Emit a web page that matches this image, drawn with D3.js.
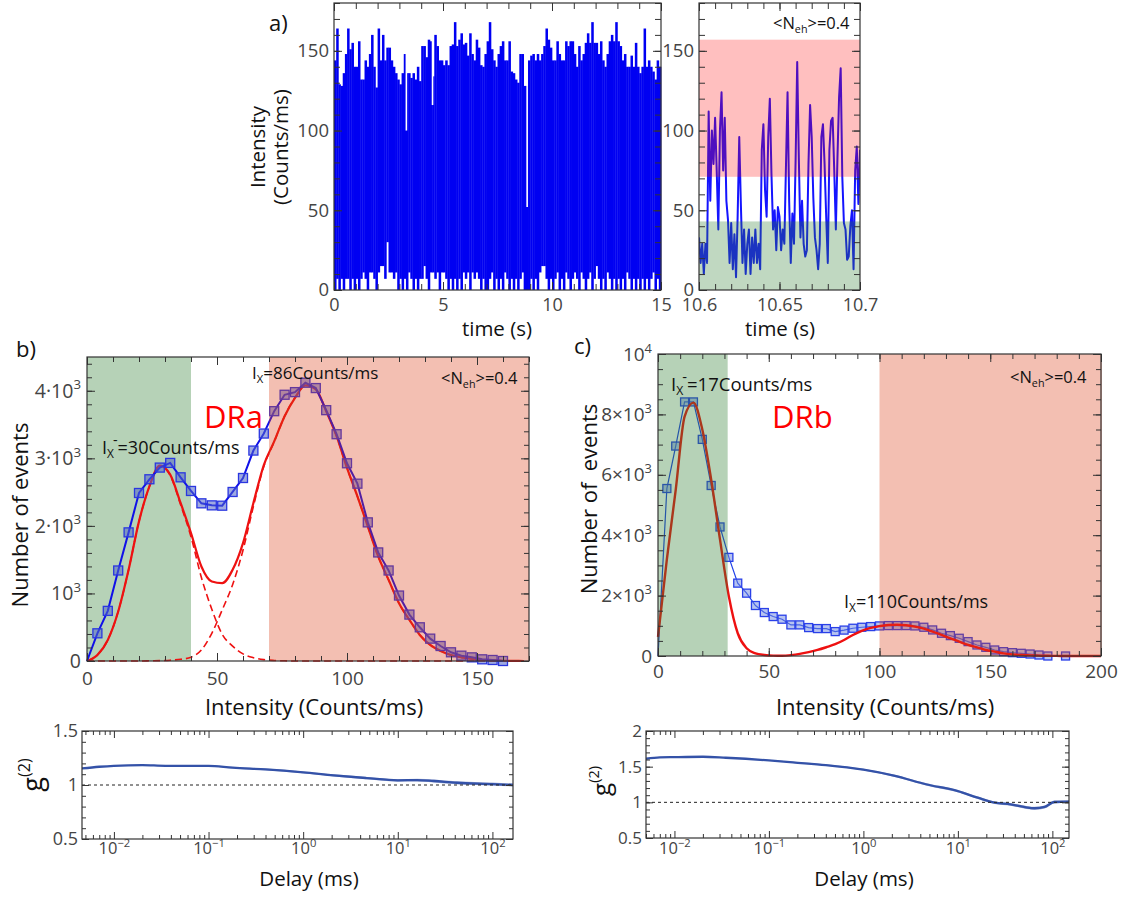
<!DOCTYPE html>
<html><head><meta charset="utf-8">
<script src="https://cdn.jsdelivr.net/npm/d3@7"></script>
<style>
body{margin:0;background:#fff}
svg{display:block}
text{font-family:'Open Sans',sans-serif}
</style>
</head><body>
<svg id="fig" width="1123" height="899"></svg>
<script>
// ---------------- DATA ----------------
// Panel a (left): intensity trace, 0.1 s bins, upper / lower envelope (Counts/ms)
const traceBinWidth = 0.1;
const traceMax = [
 144,164,129,128,136,148,164,151,155,140,
 140,156,132,132,144,140,148,160,140,127,
 164,144,160,144,152,152,144,140,136,132,
 129,136,148,136,136,133,136,132,140,131,
 153,153,146,157,156,134,160,153,144,144,
 141,144,141,153,154,168,153,157,161,154,
 155,147,161,148,144,157,152,141,140,148,
 156,168,151,144,140,148,153,156,144,144,
 156,137,136,132,130,148,148,128,128,144,
 147,148,144,148,144,148,153,164,157,152,
 144,144,156,148,144,144,156,153,156,156,
 148,140,153,144,148,155,161,155,168,155,
 155,148,156,144,140,148,156,160,156,168,
 156,153,144,148,140,140,147,140,155,140,
 136,140,164,140,144,140,137,132,144,140];
const traceMin = [
 0,7,0,7,0,7,7,0,7,0,
 7,0,7,11,7,0,11,11,7,0,
 11,15,15,7,30,11,11,7,11,0,
 7,0,7,0,11,7,0,7,0,7,
 7,15,7,0,11,11,7,11,0,11,
 11,7,0,7,0,7,0,7,0,11,
 7,11,0,11,7,11,7,0,7,0,
 0,7,11,0,7,0,7,0,11,7,
 0,7,0,7,0,7,11,0,0,0,
 7,0,7,0,11,15,15,7,0,7,
 0,7,11,0,7,0,11,7,0,7,
 11,7,0,11,7,0,7,11,0,7,
 15,7,0,7,0,11,7,0,7,0,
 7,0,7,0,11,7,0,7,0,7,
 0,7,0,7,0,7,11,0,7,0];
const dipTimes = [3.32, 4.52, 8.86];
const dipLevels = [100, 116, 52];

// Panel a (right): zoomed trace 10.600 - 10.700 s, 1 ms steps
const zoomStart = 10.6, zoomStep = 0.001;
const zoomTrace = [
 33,17,29,10,29,17,112,56,100,79,108,
 75,38,100,124,75,108,56,44,17,42,
 13,35,8,46,96,54,17,38,10,29,
 38,10,33,17,38,17,29,13,88,104,
 63,46,96,120,73,38,50,25,52,46,
 25,38,29,77,124,56,17,48,29,81,
 143,83,33,56,29,21,25,79,116,96,
 58,33,25,13,29,96,104,79,46,17,
 88,106,108,75,38,83,121,139,71,42,
 38,19,21,40,50,13,75,90,54,88];
const zoomBandHigh = [71, 157];
const zoomBandLow = [0, 43];

// Panel b: histogram DRa
const histBX = [0,4,8,12,16,20,24,28,32,36,40,44,48,52,56,60,64,68,72,76,80,84,88,92,96,100,104,108,112,116,120,124,128,132,136,140,144,148,152,156,160];
const histBY = [0,410,742,1340,1904,2487,2690,2863,2932,2719,2517,2334,2304,2299,2502,2709,3115,3367,3698,3941,3980,4119,4040,3713,3357,2927,2625,2052,1607,1340,969,687,499,331,222,129,79,54,25,15,0];
const fitBX = [0,4,8,12,16,20,24,28,32,36,40,44,48,52,56,60,64,68,72,76,80,84,88,92,96,100,104,108,112,116,120,124,128,132,136,140,144,148,152,156,160,164,168];
const fitBTotal = [0,89,311,732,1350,2067,2586,2892,2759,2339,1894,1399,1177,1152,1350,1745,2339,2900,3250,3624,3896,4079,4020,3698,3328,2858,2438,1993,1548,1201,855,608,386,237,148,89,54,30,15,8,4,2,0];
const fitBLow = [0,89,311,732,1350,2067,2583,2886,2747,2314,1839,1236,767,396,220,105,49,20,8,3,0,0,0,0,0,0,0,0,0,0,0,0,0,0,0,0,0,0,0,0,0,0,0];
const fitBHigh = [0,0,0,0,0,0,3,6,12,25,55,163,410,756,1130,1640,2290,2880,3242,3624,3896,4079,4020,3698,3328,2858,2438,1993,1548,1201,855,608,386,237,148,89,54,30,15,8,4,2,0];
const bandsB = {low:[0,40], high:[70,170]};

// Panel c: histogram DRb
const histCX = [0,4,8,12,16,20,24,28,32,36,40,44,48,52,56,60,64,68,72,76,80,84,88,92,96,100,104,108,112,116,120,124,128,132,136,140,144,148,152,156,160,164,168,172,176,184];
const histCY = [0,5546,6952,8413,8413,7173,5646,4273,3266,2413,2081,1672,1439,1306,1218,1030,1030,941,908,908,808,858,919,952,974,996,1007,1007,1007,996,952,863,753,675,587,476,365,288,199,144,111,89,66,33,0,0];
const fitCX = [0,4,8,12,16,20,24,28,32,36,40,44,48,52,56,60,64,68,72,76,80,84,88,92,96,100,104,108,112,116,120,124,128,132,136,140,144,148,152,156,160,164,168,172,176,180,184,188,192,196,200];
const fitCY = [630,3200,5500,7926,8391,7500,5845,3852,1970,753,255,89,33,11,10,30,70,130,200,290,390,530,697,830,930,990,1025,1035,1020,974,908,808,697,587,476,365,288,199,144,89,55,33,22,12,6,3,1,0,0,0,0];
const bandsC = {low:[0,31], high:[100,200]};

// g2 curves
const g2BDelay = [0.0046,0.007,0.01,0.02,0.035,0.1,0.18,0.4,1,2.1,4.7,10,16,24,42,100,165];
const g2BVal   = [1.153,1.169,1.178,1.184,1.178,1.178,1.16,1.144,1.117,1.089,1.064,1.043,1.046,1.037,1.021,1.009,1.0];
const g2BNoise = [0.003,0.003,0.003,0.003,0.003,0.004,0.007,0.008,0.009,0.01,0.011,0.012,0.013,0.013,0.013,0.013,0.013];
const g2CDelay = [0.005,0.007,0.01,0.02,0.035,0.1,0.18,0.4,1,2.1,4.7,10,16.2,24.5,36,50,65,83,105,150];
const g2CVal   = [1.611,1.63,1.634,1.639,1.625,1.588,1.56,1.523,1.458,1.375,1.25,1.157,1.065,0.995,0.972,0.935,0.917,0.935,1.005,1.01];
const g2CNoise = [0.004,0.004,0.004,0.004,0.005,0.006,0.009,0.011,0.013,0.015,0.016,0.017,0.018,0.018,0.019,0.02,0.02,0.02,0.02,0.02];

// ---------------- DRAWING ----------------
const svg = d3.select('#fig');
const FONT = "'Open Sans',sans-serif";
const GREEN = '#2e7d32', SALMON = '#dc3c14';

function supify(g, fs){
  g.selectAll('.tick text').each(function(){
    const t = d3.select(this), s = t.text();
    if (s.includes('^')) {
      const [b,p] = s.split('^');
      t.text(null);
      t.append('tspan').text(b);
      t.append('tspan').attr('dy', -fs*0.42).attr('font-size', fs*0.68).text(p);
    }
  });
}

function frame(g, x, y, o){
  const [xa, xb] = x.range(), [ya, yb] = y.range();
  const sides = [
    [d3.axisBottom, x, `translate(0,${ya})`, o.xMajor, o.xMinor, o.xFmt, o.xPad, o.xFs],
    [d3.axisTop,    x, `translate(0,${yb})`, o.xMajor, o.xMinor, null, 3, 10],
    [d3.axisLeft,   y, `translate(${xa},0)`, o.yMajor, o.yMinor, o.yFmt, o.yPad, o.yFs],
    [d3.axisRight,  y, `translate(${xb},0)`, o.yMajor, o.yMinor, null, 3, 10]
  ];
  for (const [A, s, tr, maj, min, fmt, pad, fs] of sides){
    const gm = g.append('g').attr('transform', tr)
      .call(A(s).tickValues(min).tickSize(-o.minLen).tickFormat(() => ''));
    const gM = g.append('g').attr('transform', tr)
      .call(A(s).tickValues(maj).tickSize(-o.majLen).tickPadding(pad).tickFormat(fmt || (() => '')));
    [gm, gM].forEach(q => {
      q.select('.domain').remove();
      q.selectAll('line').attr('stroke', '#333').attr('stroke-width', 1);
    });
    if (fmt){
      gM.attr('font-family', FONT).attr('font-size', fs);
      gM.selectAll('text').attr('fill', '#444');
      supify(gM, fs);
    }
  }
  g.append('rect').attr('x', xa).attr('y', yb).attr('width', xb-xa).attr('height', ya-yb)
    .attr('fill', 'none').attr('stroke', '#333').attr('stroke-width', 1.2);
}

function text(g, x, y, s, fs, opts={}){
  const t = g.append('text').attr('x', x).attr('y', y).attr('font-size', fs)
    .attr('fill', opts.fill || '#111').attr('text-anchor', opts.anchor || 'start');
  if (opts.rotate) t.attr('transform', `rotate(-90,${x},${y})`);
  if (opts.pre) t.style('white-space', 'pre');
  t.text(s);
  return t;
}
function nehLabel(g, x, y, fs){
  const t = g.append('text').attr('x', x).attr('y', y).attr('font-size', fs).attr('fill', '#111');
  t.append('tspan').text('<N');
  t.append('tspan').attr('dy', 4).attr('font-size', fs*0.65).text('eh');
  t.append('tspan').attr('dy', -4).text('>=0.4');
}
function ixLabel(g, x, y, fs, val, minus){
  const t = g.append('text').attr('x', x).attr('y', y).attr('font-size', fs).attr('fill', '#111');
  t.append('tspan').text('I');
  t.append('tspan').attr('dy', 4).attr('font-size', fs*0.66).text('X');
  if (minus){
    t.append('tspan').attr('dx', -1).attr('dy', -13).attr('font-size', fs*0.8).text('-');
    t.append('tspan').attr('dy', 9).text('=' + val + 'Counts/ms');
  } else {
    t.append('tspan').attr('dy', -4).text('=' + val + 'Counts/ms');
  }
}
function clip(id, x0, y0, w, h){
  svg.append('clipPath').attr('id', id).append('rect').attr('x', x0).attr('y', y0).attr('width', w).attr('height', h);
  return `url(#${id})`;
}
const rangeStep = (a, b, s) => d3.range(Math.round((b-a)/s)+1).map(i => +(a + i*s).toFixed(6));

// ===== Panel a left =====
{
  const g = svg.append('g');
  const x = d3.scaleLinear([0, 15], [334, 661]);
  const y = d3.scaleLinear([0, 180], [290, 3]);
  const bins = traceMax.map((m, i) => ({t: i*traceBinWidth, max: m, min: traceMin[i]}));
  g.append('g').selectAll('rect').data(bins).join('rect')
    .attr('x', d => x(d.t)).attr('width', d => x(d.t + traceBinWidth) - x(d.t) + 0.35)
    .attr('y', d => y(d.max)).attr('height', d => y(d.min) - y(d.max))
    .attr('fill', '#0000f2');
  g.append('g').selectAll('line').data(dipTimes).join('line')
    .attr('x1', d => x(d)).attr('x2', d => x(d))
    .attr('y1', y(180)).attr('y2', (d, i) => y(dipLevels[i]))
    .attr('stroke', '#fff').attr('stroke-width', 1.6);
  frame(g, x, y, {
    xMajor: [0,5,10,15], xMinor: d3.range(0,16,1), yMajor: [0,50,100,150], yMinor: d3.range(0,181,10),
    xFmt: d3.format('d'), yFmt: d3.format('d'), xPad: 8, yPad: 5, xFs: 18, yFs: 18.5, majLen: 8, minLen: 6
  });
  text(g, 497, 336, 'time (s)', 20.5, {anchor: 'middle'});
  text(g, 265, 147, 'Intensity', 20.5, {anchor: 'middle', rotate: true});
  text(g, 288, 147, '(Counts/ms)', 20.5, {anchor: 'middle', rotate: true});
  text(g, 269, 31, 'a)', 22);
}

// ===== Panel a right =====
{
  const g = svg.append('g');
  const x = d3.scaleLinear([10.6, 10.7], [699, 860]);
  const y = d3.scaleLinear([0, 180], [290, 3]);
  const cp = clip('clipAR', 699, 3, 161, 287);
  g.append('path').attr('clip-path', cp)
    .attr('d', d3.line().x((d, i) => x(zoomStart + i*zoomStep)).y(d => y(d))(zoomTrace))
    .attr('fill', 'none').attr('stroke', '#1414ff').attr('stroke-width', 2).attr('stroke-linejoin', 'round');
  g.append('rect').attr('x', 699).attr('width', 161)
    .attr('y', y(zoomBandHigh[1])).attr('height', y(zoomBandHigh[0]) - y(zoomBandHigh[1]))
    .attr('fill', '#ff0000').attr('opacity', 0.25);
  g.append('rect').attr('x', 699).attr('width', 161)
    .attr('y', y(zoomBandLow[1])).attr('height', y(zoomBandLow[0]) - y(zoomBandLow[1]))
    .attr('fill', GREEN).attr('opacity', 0.3);
  frame(g, x, y, {
    xMajor: [10.6,10.65,10.7], xMinor: rangeStep(10.6,10.7,0.01), yMajor: [0,50,100,150], yMinor: d3.range(0,181,10),
    xFmt: d => String(+d.toFixed(2)), yFmt: d3.format('d'), xPad: 8, yPad: 5, xFs: 18, yFs: 18.5, majLen: 8, minLen: 6
  });
  text(g, 780, 336, 'time (s)', 20.5, {anchor: 'middle'});
  nehLabel(g, 773, 29, 16.5);
}

// ===== Panel b histogram =====
{
  const g = svg.append('g');
  const x = d3.scaleLinear([0, 170], [87, 529]);
  const y = d3.scaleLinear([0, 4500], [661, 357]);
  const band = (r, c, op) => g.append('rect').attr('x', x(r[0])).attr('width', x(r[1]) - x(r[0]))
    .attr('y', 357).attr('height', 304).attr('fill', c).attr('opacity', op);
  band(bandsB.low, GREEN, 0.35);
  const line = d3.line().x((d, i) => x(d[0])).y(d => y(d[1]));
  const smooth = d3.line().curve(d3.curveMonotoneX).x(d => x(d[0])).y(d => y(d[1]));
  const red = '#ee1111';
  g.append('path').attr('d', smooth(fitBX.map((v, i) => [v, fitBLow[i]])))
    .attr('fill', 'none').attr('stroke', red).attr('stroke-width', 1.6).attr('stroke-dasharray', '7,4');
  g.append('path').attr('d', smooth(fitBX.map((v, i) => [v, fitBHigh[i]])))
    .attr('fill', 'none').attr('stroke', red).attr('stroke-width', 1.6).attr('stroke-dasharray', '7,4');
  g.append('path').attr('d', smooth(fitBX.map((v, i) => [v, fitBTotal[i]])))
    .attr('fill', 'none').attr('stroke', red).attr('stroke-width', 2.2);
  g.append('path').attr('d', line(histBX.map((v, i) => [v, histBY[i]])))
    .attr('fill', 'none').attr('stroke', '#1010e8').attr('stroke-width', 2);
  const sq = 9;
  g.append('g').selectAll('rect').data(histBX.map((v, i) => [v, histBY[i]]).filter(d => d[0] > 0)).join('rect')
    .attr('x', d => x(d[0]) - sq/2).attr('y', d => y(d[1]) - sq/2).attr('width', sq).attr('height', sq)
    .attr('fill', 'rgba(80,100,200,0.55)').attr('stroke', '#2a36e0').attr('stroke-width', 1.3);
  band(bandsB.high, SALMON, 0.33);
  frame(g, x, y, {
    xMajor: [0,50,100,150], xMinor: d3.range(0,171,10), yMajor: [0,1000,2000,3000,4000], yMinor: d3.range(0,4501,200),
    xFmt: d3.format('d'), yFmt: d => d === 0 ? '0' : d === 1000 ? '10^3' : (d/1000) + '·10^3',
    xPad: 11, yPad: 6, xFs: 19, yFs: 19.5, majLen: 8, minLen: 5
  });
  text(g, 314, 715, 'Intensity (Counts/ms)', 22, {anchor: 'middle'});
  text(g, 28, 515, 'Number of events', 22, {anchor: 'middle', rotate: true});
  text(g, 16, 357, 'b)', 22);
  text(g, 204, 428, 'DRa', 31, {fill: '#ff0000'});
  ixLabel(g, 102, 454, 18, 30, true);
  ixLabel(g, 252, 379, 17, 86, false);
  nehLabel(g, 441, 384, 16.5);
}

// ===== Panel c histogram =====
{
  const g = svg.append('g');
  const x = d3.scaleLinear([0, 200], [658, 1101]);
  const y = d3.scaleLinear([0, 10000], [656, 354]);
  const band = (r, c, op) => g.append('rect').attr('x', x(r[0])).attr('width', x(r[1]) - x(r[0]) + 1)
    .attr('y', 354).attr('height', 302).attr('fill', c).attr('opacity', op);
  const line = d3.line().x(d => x(d[0])).y(d => y(d[1]));
  const smooth = d3.line().curve(d3.curveMonotoneX).x(d => x(d[0])).y(d => y(d[1]));
  g.append('path').attr('d', line(histCX.map((v, i) => [v, histCY[i]])))
    .attr('fill', 'none').attr('stroke', '#2040e8').attr('stroke-width', 1.2);
  const sq = 8;
  g.append('g').selectAll('rect').data(histCX.map((v, i) => [v, histCY[i]]).filter(d => d[0] > 0)).join('rect')
    .attr('x', d => x(d[0]) - sq/2).attr('y', d => y(d[1]) - sq/2).attr('width', sq).attr('height', sq)
    .attr('fill', 'rgba(110,135,225,0.5)').attr('stroke', '#2a40e8').attr('stroke-width', 1.3);
  g.append('path').attr('d', smooth(fitCX.map((v, i) => [v, fitCY[i]])))
    .attr('fill', 'none').attr('stroke', '#ee1111').attr('stroke-width', 2.4);
  band(bandsC.low, GREEN, 0.35);
  band(bandsC.high, SALMON, 0.33);
  frame(g, x, y, {
    xMajor: [0,50,100,150,200], xMinor: d3.range(0,201,10), yMajor: [0,2000,4000,6000,8000,10000], yMinor: d3.range(0,10001,500),
    xFmt: d3.format('d'), yFmt: d => d === 0 ? '0' : d === 10000 ? '10^4' : (d/1000) + '×10^3',
    xPad: 9, yPad: 6, xFs: 19, yFs: 19, majLen: 8, minLen: 5
  });
  text(g, 885, 715, 'Intensity (Counts/ms)', 22, {anchor: 'middle'});
  text(g, 597, 499, 'Number of  events', 22, {anchor: 'middle', rotate: true, pre: true});
  text(g, 574, 354, 'c)', 22);
  text(g, 772, 428, 'DRb', 31, {fill: '#ff0000'});
  ixLabel(g, 671, 391, 18.5, 17, true);
  ixLabel(g, 844, 608, 18, 110, false);
  nehLabel(g, 1010, 383, 16.5);
}

// ===== g2 panels =====
function g2Panel(id, xr, yr, xdom, ydom, yMajor, delays, vals, noise, opts){
  const g = svg.append('g');
  const x = d3.scaleLog(xdom, xr);
  const y = d3.scaleLinear(ydom, yr);
  const cp = clip(id, xr[0], yr[1], xr[1]-xr[0], yr[0]-yr[1]);
  const pts = delays.map((d, i) => ({d, v: vals[i], n: noise[i]}));
  g.append('path').attr('clip-path', cp)
    .attr('d', d3.area().curve(d3.curveMonotoneX).x(p => x(p.d)).y0(p => y(p.v - p.n)).y1(p => y(p.v + p.n))(pts))
    .attr('fill', '#3a55a8').attr('opacity', 0.45);
  g.append('path').attr('clip-path', cp)
    .attr('d', d3.line().curve(d3.curveMonotoneX).x(p => x(p.d)).y(p => y(p.v))(pts))
    .attr('fill', 'none').attr('stroke', '#3452a8').attr('stroke-width', 2.3);
  g.append('line').attr('x1', xr[0]).attr('x2', xr[1]).attr('y1', y(1)).attr('y2', y(1))
    .attr('stroke', '#222').attr('stroke-width', 1).attr('stroke-dasharray', '3,3');
  const majors = [1e-2, 1e-1, 1, 10, 100];
  const minors = [];
  for (let e = -3; e <= 2; e++) for (let k = 2; k <= 9; k++) {
    const v = k * Math.pow(10, e);
    if (v >= xdom[0] && v <= xdom[1]) minors.push(v);
  }
  frame(g, x, y, {
    xMajor: majors, xMinor: minors, yMajor: yMajor, yMinor: rangeStep(ydom[0], ydom[1], 0.1),
    xFmt: d => { const e = Math.round(Math.log10(d)); return '10^' + (e < 0 ? '\u2212' + (-e) : e); },
    yFmt: d => String(d), xPad: opts.xPad, yPad: opts.yPad, xFs: opts.xFs, yFs: opts.yFs, majLen: 7, minLen: 4
  });
  text(g, opts.delayX, 886, 'Delay (ms)', 20.5, {anchor: 'middle'});
  const t = g.append('text').attr('x', opts.gX).attr('y', opts.gY).attr('font-size', opts.gFs)
    .attr('fill', '#111').attr('text-anchor', 'middle')
    .attr('transform', `rotate(-90,${opts.gX},${opts.gY})`);
  t.append('tspan').text('g');
  t.append('tspan').attr('dy', -opts.gFs*0.45).attr('font-size', opts.gFs*0.6).text('(2)');
}
g2Panel('clipBG', [82, 513], [839, 731], [0.0046, 165], [0.5, 1.5], [0.5, 1, 1.5],
  g2BDelay, g2BVal, g2BNoise,
  {xPad: 3, yPad: 4, xFs: 16.5, yFs: 18, delayX: 309, gX: 42, gY: 775, gFs: 27});
g2Panel('clipCG', [646, 1069], [838, 731], [0.005, 150], [0.5, 2], [0.5, 1, 1.5, 2],
  g2CDelay, g2CVal, g2CNoise,
  {xPad: 4, yPad: 4, xFs: 16.5, yFs: 17, delayX: 864, gX: 610, gY: 781, gFs: 24});
</script>
</body></html>
